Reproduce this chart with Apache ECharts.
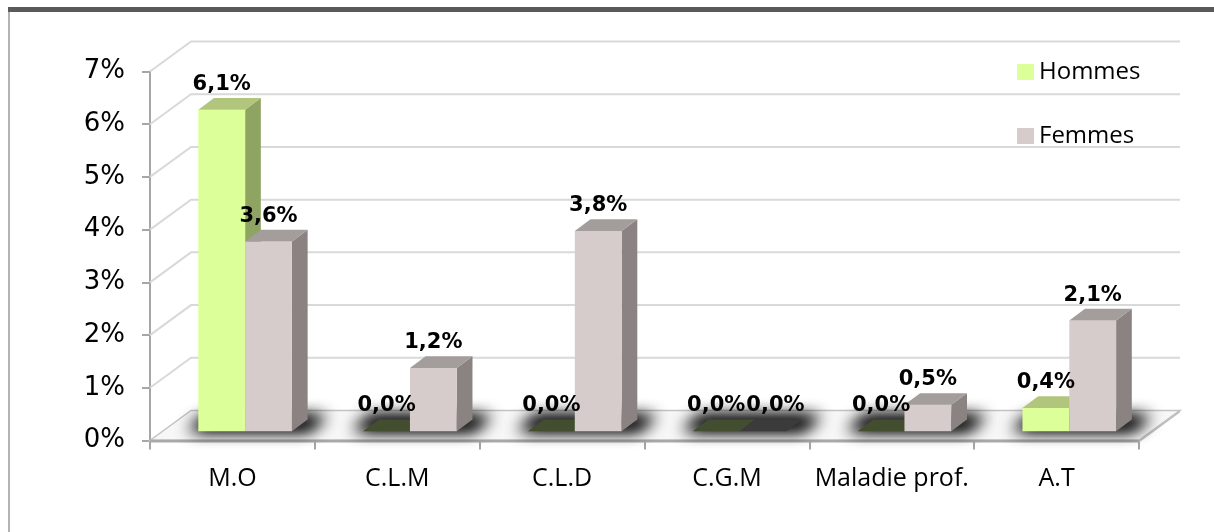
<!DOCTYPE html>
<html><head><meta charset="utf-8">
<script src="https://cdn.jsdelivr.net/npm/echarts@6/dist/echarts.min.js"></script>
<style>html,body{margin:0;padding:0;background:#fff}#c{width:1214px;height:532px}</style>
</head><body><div id="c"></div>
<script>
// ---- data ----
const categories = ['M.O', 'C.L.M', 'C.L.D', 'C.G.M', 'Maladie prof.', 'A.T'];
const hommes = [6.1, 0, 0, 0, 0, 0.44];
const femmes = [3.6, 1.2, 3.8, 0, 0.5, 2.1];
const yMin = 0, yMax = 7, yStep = 1;

// ---- 3D look (styles, not data) ----
const DEPTH = [41, -30];
const BAR_SHIFT = 0.31;
const BAR_DEPTH = [15.7, -11.7];
const BAR_W = 0.284;
const LABEL_FONT = 'bold 21px "DejaVu Sans"';
const colors = {
  Hommes: { front: '#ddff99', top: '#b1c67c', side: '#8fa462', zero: '#434d2f' },
  Femmes: { front: '#d6cccc', top: '#a39d9b', side: '#8a8382', zero: '#3b3b3b' }
};
function fmt(v) { return v.toFixed(1).replace('.', ',') + '%'; }
const mctx = document.createElement('canvas').getContext('2d');
function textW(t) { mctx.font = LABEL_FONT; return mctx.measureText(t).width; }

function geomOf(api, i, v, key) {
  const band = api.size([1, 0])[0];
  const base = api.coord([i, 0]);
  const top = api.coord([i, v]);
  const w = band * BAR_W;
  const sx = DEPTH[0] * BAR_SHIFT, sy = DEPTH[1] * BAR_SHIFT;
  const x0 = base[0] + sx + (key === 'Hommes' ? -w : 0);
  return { v, x0, x1: x0 + w, yb: base[1] + sy, yt: top[1] + sy };
}
function geom(api, key) { return geomOf(api, api.value(0), api.value(1), key); }

function decoRender(params, api) {
  const i = api.value(0);
  const band = api.size([1, 0])[0];
  const c0 = api.coord([i, 0]);
  const children = [];
  if (params.dataIndex === 0) {
    const n = categories.length;
    const xL = api.coord([0, 0])[0] - band / 2;
    const xR = api.coord([n - 1, 0])[0] + band / 2;
    for (let v = yMin + yStep; v <= yMax + 1e-9; v += yStep) {
      const y = api.coord([0, v])[1];
      children.push({ type: 'polyline', z2: 1, shape: { points: [[xL, y], [xL + DEPTH[0], y + DEPTH[1]], [xR + DEPTH[0], y + DEPTH[1]]] },
        style: { stroke: '#d9d9d9', lineWidth: 2, fill: null } });
    }
    const y0 = c0[1];
    children.push({ type: 'polygon', z2: 2, shape: { points: [[xL, y0], [xR, y0], [xR + DEPTH[0], y0 + DEPTH[1]], [xL + DEPTH[0], y0 + DEPTH[1]]] },
      style: { fill: '#f7f7f7', stroke: '#c4c4c4', lineWidth: 1.5 } });
    children.push({ type: 'polygon', z2: 3, shape: { points: [[xL, y0 - 1], [xR, y0 - 1], [xR, y0 + 2], [xL, y0 + 2]] },
      style: { fill: '#a9a9a9' } });
    children.push({ type: 'polygon', z2: 3, shape: { points: [[xR, y0 - 1], [xR + DEPTH[0], y0 + DEPTH[1] - 1], [xR + DEPTH[0], y0 + DEPTH[1] + 2], [xR, y0 + 2]] },
      style: { fill: '#c0c0c0' } });
  }
  // soft blurred shadow under the bar pair (shape drawn off-canvas, only its shadow shows)
  const w = band * BAR_W;
  const cx = c0[0] + DEPTH[0] * BAR_SHIFT;
  const yb = c0[1] + DEPTH[1] * BAR_SHIFT;
  const yF = yb - 1, yB = c0[1] + DEPTH[1] + 6;
  const dx = (yB - yF) * DEPTH[0] / DEPTH[1];
  const L = cx - w - 10, R = cx + w + BAR_DEPTH[0];
  const OFF = 2000;
  for (let k = 0; k < 2; k++) {
    children.push({ type: 'polygon', z2: 4,
      shape: { points: [[L, yF - OFF], [R, yF - OFF], [R + dx, yB - OFF], [L + dx, yB - OFF]] },
      style: { fill: '#000', shadowBlur: 16, shadowColor: 'rgba(0,0,0,0.95)', shadowOffsetX: 0, shadowOffsetY: OFF } });
  }
  return { type: 'group', children };
}

function barRender(key) {
  return function (params, api) {
    const g = geom(api, key);
    const col = colors[key];
    const [dx, dy] = BAR_DEPTH;
    const ch = [];
    if (g.v > 0) {
      ch.push({ type: 'polygon', shape: { points: [[g.x1, g.yt], [g.x1 + dx, g.yt + dy], [g.x1 + dx, g.yb + dy], [g.x1, g.yb]] }, style: { fill: col.side } });
      ch.push({ type: 'rect', shape: { x: g.x0, y: g.yt, width: g.x1 - g.x0, height: g.yb - g.yt }, style: { fill: col.front } });
      ch.push({ type: 'polygon', shape: { points: [[g.x0, g.yt], [g.x1, g.yt], [g.x1 + dx, g.yt + dy], [g.x0 + dx, g.yt + dy]] }, style: { fill: col.top } });
    } else {
      ch.push({ type: 'polygon', shape: { points: [[g.x0, g.yb], [g.x1, g.yb], [g.x1 + dx, g.yb + dy], [g.x0 + dx, g.yb + dy]] }, style: { fill: col.zero } });
    }
    return { type: 'group', children: ch };
  };
}

function labelRender(key) {
  return function (params, api) {
    const i = api.value(0);
    const g = geom(api, key);
    let cx = (g.x0 + g.x1) / 2;
    const txt = fmt(g.v);
    if (key === 'Femmes') {
      const h = geomOf(api, i, hommes[i], 'Hommes');
      const hc = (h.x0 + h.x1) / 2, hw = textW(fmt(hommes[i]));
      const yOverlap = Math.abs(h.yt - g.yt) < 22;
      const minC = hc + hw / 2 + textW(txt) / 2 + 1;
      if (yOverlap && cx < minC) cx = minC;
    }
    return { type: 'text', style: { text: txt, x: cx, y: g.yt + BAR_DEPTH[1] - 3,
      align: 'center', verticalAlign: 'bottom', font: LABEL_FONT, fill: '#000' } };
  };
}

const chart = echarts.init(document.getElementById('c'), null, { renderer: 'canvas' });
chart.setOption({
  backgroundColor: '#fff',
  animation: false,
  graphic: [
    { type: 'rect', shape: { x: 8, y: 7, width: 1206, height: 5 }, style: { fill: '#5a5a5a' } },
    { type: 'rect', shape: { x: 8, y: 12, width: 2, height: 520 }, style: { fill: '#b3b3b3' } }
  ],
  grid: { left: 150, right: 75, top: 71.5, bottom: 91.5 },
  legend: {
    data: ['Hommes', 'Femmes'], orient: 'vertical', left: 1012, top: 55,
    itemWidth: 17, itemHeight: 16, itemGap: 40, icon: 'rect',
    textStyle: { fontFamily: 'Open Sans', fontSize: 24, color: '#000' }
  },
  xAxis: {
    type: 'category', data: categories,
    axisLine: { show: false },
    axisTick: { show: true, interval: 0, length: 9, lineStyle: { color: '#a6a6a6', width: 2 } },
    axisLabel: { interval: 0, fontFamily: 'Open Sans', fontSize: 25, color: '#000', margin: 26 },
    splitLine: { show: false }
  },
  yAxis: {
    type: 'value', min: yMin, max: yMax, interval: yStep,
    axisLine: { show: true, lineStyle: { color: '#a6a6a6', width: 2 } },
    axisTick: { show: true, length: 8, lineStyle: { color: '#a6a6a6', width: 2 } },
    splitLine: { show: false },
    axisLabel: { formatter: v => v + '%', fontFamily: 'DejaVu Sans', fontSize: 26, color: '#000', margin: 25 }
  },
  series: [
    { type: 'custom', name: 'deco', z: 1, silent: true, clip: false, renderItem: decoRender,
      data: categories.map((c, i) => [i, 0]) },
    { type: 'custom', name: 'Hommes', z: 2, clip: false, itemStyle: { color: colors.Hommes.front },
      renderItem: barRender('Hommes'), data: hommes.map((v, i) => [i, v]), encode: { x: 0, y: 1 } },
    { type: 'custom', name: 'Femmes', z: 3, clip: false, itemStyle: { color: colors.Femmes.front },
      renderItem: barRender('Femmes'), data: femmes.map((v, i) => [i, v]), encode: { x: 0, y: 1 } },
    { type: 'custom', name: 'lblH', z: 5, silent: true, clip: false, renderItem: labelRender('Hommes'),
      data: hommes.map((v, i) => [i, v]), encode: { x: 0, y: 1 } },
    { type: 'custom', name: 'lblF', z: 5, silent: true, clip: false, renderItem: labelRender('Femmes'),
      data: femmes.map((v, i) => [i, v]), encode: { x: 0, y: 1 } }
  ]
});
</script>
</body></html>
